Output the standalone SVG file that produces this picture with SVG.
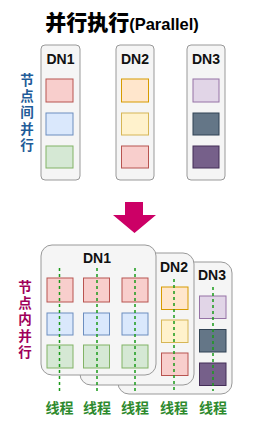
<svg xmlns="http://www.w3.org/2000/svg" width="259" height="427" viewBox="0 0 259 427">
<style>
.box{fill:#f5f5f5;stroke:#999;stroke-width:1}
.lbl{font-family:"Liberation Sans",Arial,sans-serif;font-weight:bold;font-size:14px;fill:#111;text-anchor:middle}
.cjk{font-family:"Noto Sans CJK SC","Liberation Sans",sans-serif;font-weight:bold;text-anchor:middle}
.vt{font-family:"Noto Sans CJK SC","Liberation Sans",sans-serif;font-weight:bold;font-size:13.5px;writing-mode:vertical-rl;letter-spacing:2.8px}
.r{fill:#f8cecc;stroke:#b85450}
.b{fill:#dae8fc;stroke:#6c8ebf}
.g{fill:#d5e8d4;stroke:#82b366}
.o{fill:#ffe6cc;stroke:#d79b00}
.y{fill:#fff2cc;stroke:#d6b656}
.p{fill:#e1d5e7;stroke:#9673a6}
.d{fill:#647687;stroke:#314354}
.v{fill:#76608a;stroke:#432d57}
.th{stroke:#1a9a1a;stroke-width:1.5;stroke-dasharray:3 3;fill:none}
</style>
<rect width="259" height="427" fill="#fff"/>
<text x="122" y="30" style="font-family:'Noto Sans CJK SC',sans-serif;font-weight:900;font-size:21px;fill:#000" text-anchor="middle">并行执行<tspan style="font-family:'Liberation Sans',Arial,sans-serif;font-weight:bold;font-size:16.5px">(Parallel)</tspan></text>
<g id="label-inter">
<text class="vt" x="27" y="73" fill="#1f5c99">节点间并行</text>
</g>
<g id="top-dn1">
<rect class="box" x="41" y="45" width="39" height="135" rx="4"/>
<text class="lbl" x="60.5" y="64">DN1</text>
<rect class="r" x="46" y="79" width="27" height="23"/>
<rect class="b" x="46" y="113" width="27" height="22"/>
<rect class="g" x="46" y="146" width="27" height="22"/>
</g>
<g id="top-dn2">
<rect class="box" x="116" y="45" width="38" height="135" rx="4"/>
<text class="lbl" x="135" y="64">DN2</text>
<rect class="o" x="121.5" y="79" width="27" height="23"/>
<rect class="y" x="121.5" y="113" width="27" height="22"/>
<rect class="r" x="121.5" y="146" width="27" height="22"/>
</g>
<g id="top-dn3">
<rect class="box" x="187" y="45" width="38" height="135" rx="4"/>
<text class="lbl" x="206" y="64">DN3</text>
<rect class="p" x="193" y="79" width="26" height="23"/>
<rect class="d" x="193" y="113" width="26" height="22"/>
<rect class="v" x="193" y="146" width="26" height="22"/>
</g>
<g id="arrow">
<polygon points="125,202 143,202 143,215 156,215 134.5,233 113,215 125,215" fill="#cc0066"/>
</g>
<g id="bottom-dn3">
<rect class="box" x="118" y="262" width="114" height="132" rx="11"/>
<text class="lbl" x="212" y="280">DN3</text>
<rect class="p" x="199.5" y="296" width="26.5" height="22.5"/>
<rect class="d" x="199.5" y="329.5" width="26.5" height="22.5"/>
<rect class="v" x="199.5" y="363" width="26.5" height="22.5"/>
</g>
<g id="bottom-dn2">
<rect class="box" x="80" y="253" width="114" height="132" rx="11"/>
<text class="lbl" x="174" y="272">DN2</text>
<rect class="o" x="161.5" y="287" width="26.5" height="22.5"/>
<rect class="y" x="161.5" y="320" width="26.5" height="22.5"/>
<rect class="r" x="161.5" y="353" width="26.5" height="22.5"/>
</g>
<g id="bottom-dn1">
<rect class="box" x="41" y="245" width="115" height="130" rx="11"/>
<text class="lbl" x="97" y="263">DN1</text>
<rect class="r" x="47" y="278" width="26" height="24"/>
<rect class="r" x="83.5" y="278" width="26" height="24"/>
<rect class="r" x="122" y="278" width="26" height="24"/>
<rect class="b" x="47" y="313" width="26" height="22"/>
<rect class="b" x="83.5" y="313" width="26" height="22"/>
<rect class="b" x="122" y="313" width="26" height="22"/>
<rect class="g" x="47" y="345" width="26" height="23"/>
<rect class="g" x="83.5" y="345" width="26" height="23"/>
<rect class="g" x="122" y="345" width="26" height="23"/>
</g>
<g id="connectors">
<line class="th" x1="59.5" y1="268" x2="59.5" y2="391"/>
<line class="th" x1="97" y1="268" x2="97" y2="391"/>
<line class="th" x1="135" y1="268" x2="135" y2="391"/>
<line class="th" x1="174" y1="279" x2="174" y2="391"/>
<line class="th" x1="213" y1="287" x2="213" y2="391"/>
</g>
<g id="label-intra">
<text class="vt" x="25" y="280" fill="#a0005a">节点内并行</text>
</g>
<g id="thread-labels" class="cjk" style="font-size:14px;fill:#2e8a2e">
<text x="59.5" y="413">线程</text><text x="97" y="413">线程</text><text x="135" y="413">线程</text><text x="174" y="413">线程</text><text x="213" y="413">线程</text>
</g>
</svg>
